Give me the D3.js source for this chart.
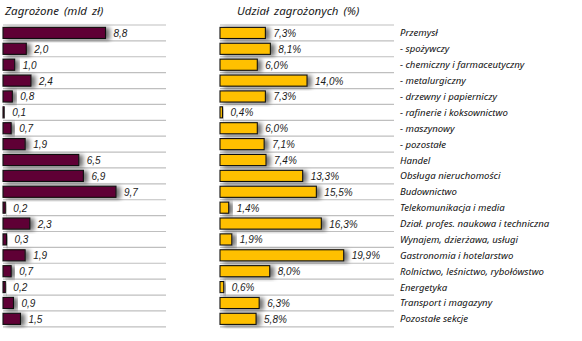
<!DOCTYPE html>
<html><head><meta charset="utf-8">
<script src="https://cdn.jsdelivr.net/npm/d3@7"></script>
<style>
body{margin:0;background:#fff;}
svg{display:block;}
</style></head>
<body>
<script>
const categories = ["Przemysł","- spożywczy","- chemiczny i farmaceutyczny","- metalurgiczny","- drzewny i papierniczy","- rafinerie i koksownictwo","- maszynowy","- pozostałe","Handel","Obsługa nieruchomości","Budownictwo","Telekomunikacja i media","Dział. profes. naukowa i techniczna","Wynajem, dzierżawa, usługi","Gastronomia i hotelarstwo","Rolnictwo, leśnictwo, rybołówstwo","Energetyka","Transport i magazyny","Pozostałe sekcje"];
const amounts = [8.8,2.0,1.0,2.4,0.8,0.1,0.7,1.9,6.5,6.9,9.7,0.2,2.3,0.3,1.9,0.7,0.2,0.9,1.5];
const shares = [7.3,8.1,6.0,14.0,7.3,0.4,6.0,7.1,7.4,13.3,15.5,1.4,16.3,1.9,19.9,8.0,0.6,6.3,5.8];
const titles = ["Zagrożone (mld zł)","Udział zagrożonych (%)"];

const W=582,H=341;
const svg=d3.select("body").append("svg").attr("width",W).attr("height",H);
const defs=svg.append("defs");
const f=defs.append("filter").attr("id","sh").attr("x","-20%").attr("y","-40%").attr("width","160%").attr("height","180%");
f.append("feGaussianBlur").attr("in","SourceAlpha").attr("stdDeviation",2).attr("result","b");
f.append("feOffset").attr("in","b").attr("dx",4).attr("dy",1).attr("result","o");
f.append("feFlood").attr("flood-color","#000").attr("flood-opacity",0.55).attr("result","c");
f.append("feComposite").attr("in","c").attr("in2","o").attr("operator","in").attr("result","s");
const m=f.append("feMerge");m.append("feMergeNode").attr("in","s");m.append("feMergeNode").attr("in","SourceGraphic");

const y=d3.scaleBand().domain(d3.range(categories.length)).range([25,326.8]).paddingInner(0.3).paddingOuter(0.15);
const rowTop=i=>25+i*(301.8/19);

const fmt=v=>d3.format(".1f")(v).replace(".",",");

function panel(x0,x1,data,scale,color,fmtFn,title,titleX){
  const g=svg.append("g");
  for(let i=0;i<=categories.length;i++){
    g.append("line").attr("x1",x0).attr("x2",x1).attr("y1",rowTop(i)).attr("y2",rowTop(i)).attr("stroke","#bfbfbf").attr("stroke-width",1.2);
  }
  g.selectAll("rect.bar").data(data).join("rect").attr("class","bar")
    .attr("x",scale(0)).attr("y",(d,i)=>y(i)).attr("width",d=>Math.max(scale(d)-scale(0),1))
    .attr("height",y.bandwidth()).attr("fill",color).attr("stroke","#111").attr("stroke-width",1.1)
    .attr("filter","url(#sh)");
  g.selectAll("text.val").data(data).join("text").attr("class","val")
    .attr("x",d=>scale(d)+8).attr("y",(d,i)=>y(i)+y.bandwidth()/2+4)
    .attr("font-family","Liberation Sans, Arial, sans-serif").attr("font-style","italic").attr("font-size",10)
    .attr("fill","#1a1a1a").text(fmtFn);
  svg.append("text").attr("x",titleX).attr("y",15).attr("font-family","Noto Sans, sans-serif").attr("font-style","italic")
    .attr("font-size",11.5).attr("word-spacing",2).attr("fill","#1a1a1a").text(title);
}
const xL=d3.scaleLinear().domain([0,9.7]).range([3,116]);
const xR=d3.scaleLinear().domain([0,19.9]).range([220,343.7]);
panel(3,166,amounts,xL,"#5e0034",fmt,titles[0],5);
panel(220,394,shares,xR,"#ffc000",d=>fmt(d)+"%",titles[1],237);

svg.selectAll("text.cat").data(categories).join("text").attr("class","cat")
  .attr("x",400).attr("y",(d,i)=>y(i)+y.bandwidth()/2+3.5)
  .attr("font-family","Noto Sans, sans-serif").attr("font-style","italic").attr("font-size",9.6)
  .attr("fill","#111").text(d=>d);
</script>
</body></html>
